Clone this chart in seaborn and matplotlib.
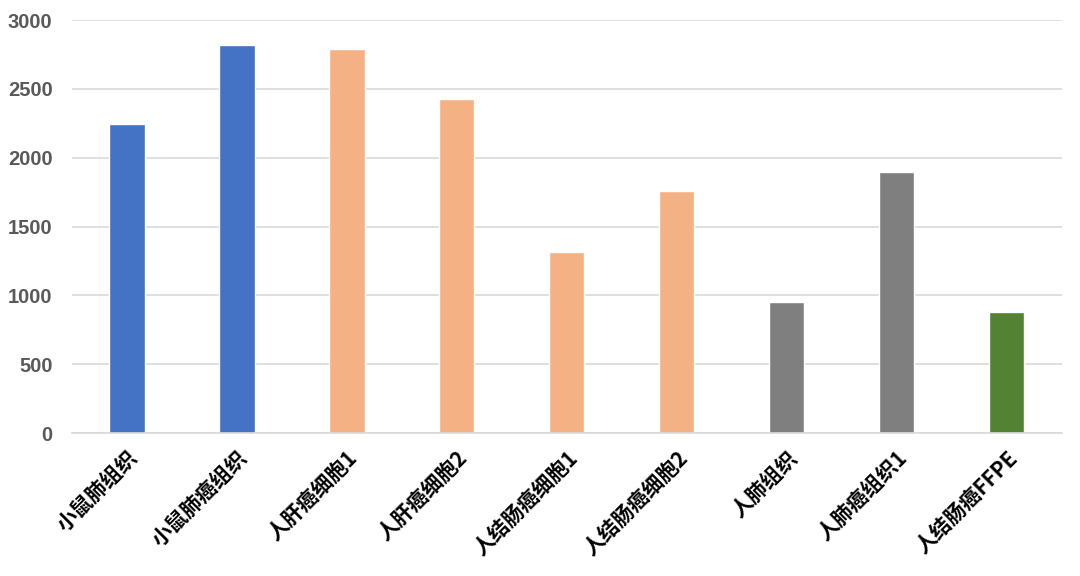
import matplotlib
matplotlib.use("Agg")
import matplotlib.pyplot as plt
import seaborn as sns
import pandas as pd

categories = ["小鼠肺组织", "小鼠肺癌组织", "人肝癌细胞1", "人肝癌细胞2", "人结肠癌细胞1",
              "人结肠癌细胞2", "人肺组织", "人肺癌组织1", "人结肠癌FFPE"]
values = [2245, 2820, 2790, 2425, 1315, 1757, 952, 1900, 877]
colors = ["#4472C4", "#4472C4", "#F4B183", "#F4B183", "#F4B183", "#F4B183",
          "#7F7F7F", "#7F7F7F", "#548235"]
yticks = [0, 500, 1000, 1500, 2000, 2500, 3000]

sns.set_theme(style="white")
plt.rcParams['font.family'] = ['Noto Sans CJK SC', 'DejaVu Sans']

df = pd.DataFrame({"cat": categories, "val": values})
fig = plt.figure(figsize=(10.8, 5.76), dpi=100)
ax = fig.add_axes([0.0667, 0.248, 0.9163, 0.717])
sns.barplot(data=df, x="cat", y="val", hue="cat", palette=colors, legend=False,
            width=0.32, saturation=1, ax=ax)
ax.set_xlim(-0.5, len(categories) - 0.5)
ax.set_ylim(0, 3000)
ax.set_yticks(yticks)
ax.set_yticklabels([str(t) for t in yticks], fontsize=14.5, fontweight="bold",
                   color="#595959", family=["Liberation Sans", "DejaVu Sans"])
ax.yaxis.grid(True, color="#D9D9D9", linewidth=1.2)
ax.set_axisbelow(True)
for s in ["top", "right", "left"]:
    ax.spines[s].set_visible(False)
ax.spines["bottom"].set_color("#D9D9D9")
ax.spines["bottom"].set_linewidth(1.2)
ax.tick_params(axis="y", length=0, pad=14)
ax.tick_params(axis="x", length=0, pad=10)
ax.set_xticks(range(len(categories)))
ax.set_xticklabels(categories, rotation=45, ha="right", rotation_mode="anchor",
                   fontsize=15, fontweight="bold", color="black")
ax.set_xlabel("")
ax.set_ylabel("")
fig.savefig("out.png", dpi=100)
